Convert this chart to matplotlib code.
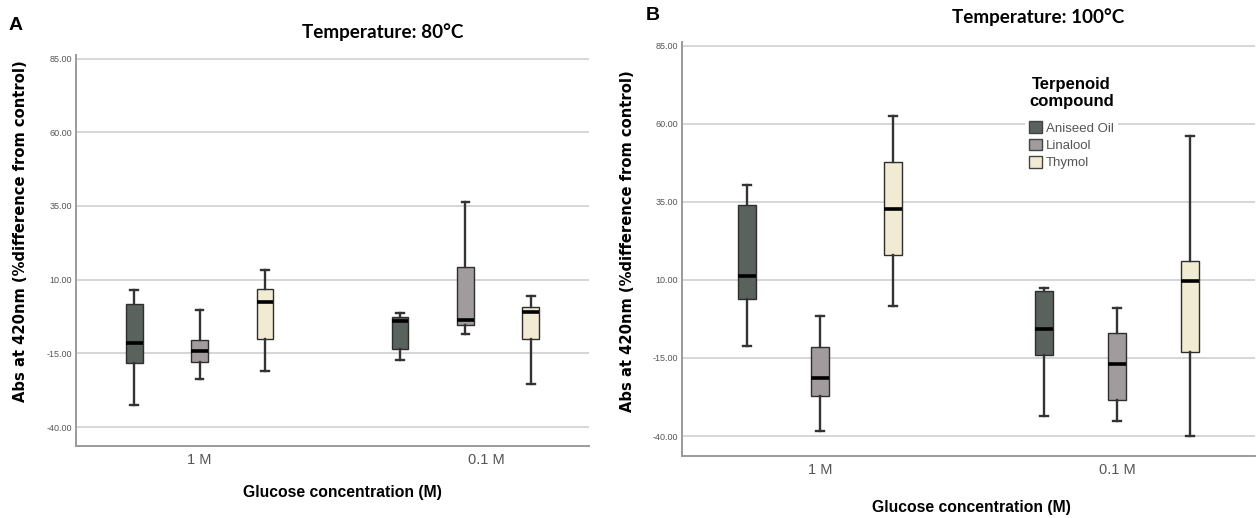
import matplotlib
matplotlib.use("Agg")
import matplotlib.pyplot as plt
import matplotlib.transforms as mtransforms
from matplotlib.patches import Patch
from matplotlib.ticker import FormatStrFormatter

# ---------------- data ----------------
groups = ["1 M", "0.1 M"]
compounds = ["Aniseed Oil", "Linalool", "Thymol"]
colors = ["#59625d", "#a19b9d", "#f1ebd3"]
yticks = [-40, -15, 10, 35, 60, 85]

# five-number summaries [whisker low, Q1, median, Q3, whisker high]; one row per group (1 M, 0.1 M)
t80_aniseed = [[-32.4, -18.1, -11.5, 1.6, 6.6], [-17.3, -13.6, -4.1, -2.7, -1.4]]
t80_linalool = [[-23.7, -17.8, -14.2, -10.5, -0.3], [-8.4, -5.4, -3.6, 14.3, 36.3]]
t80_thymol = [[-21.1, -10.1, 2.5, 7.0, 13.2], [-25.3, -10.0, -0.9, 0.8, 4.6]]

t100_aniseed = [[-11.2, 4.0, 11.1, 34.0, 40.5], [-33.5, -14.0, -5.8, 6.3, 7.3]]
t100_linalool = [[-38.3, -27.1, -21.3, -11.4, -1.4], [-35.1, -28.4, -17.0, -7.1, 1.1]]
t100_thymol = [[1.8, 18.1, 32.8, 47.9, 62.5], [-40.1, -13.1, 9.5, 16.1, 56.0]]

# ---------------- style ----------------
W, H = 1258, 518
fig = plt.figure(figsize=(W / 100, H / 100), dpi=100)
fig.patch.set_facecolor("white")

offsets = [-0.246, 0.0, 0.246]
BOXW = 0.063
CAPW = 0.028
ylabel = "Abs at 420nm (%difference from control)"
xlabel = "Glucose concentration (M)"


def draw_panel(ax, series):
    for ci, (data, col) in enumerate(zip(series, colors)):
        stats = [dict(whislo=d[0], q1=d[1], med=d[2], q3=d[3], whishi=d[4], fliers=[])
                 for d in data]
        pos = [gi + offsets[ci] for gi in range(len(groups))]
        ax.bxp(stats, positions=pos, widths=BOXW, patch_artist=True, showfliers=False,
               capwidths=CAPW, manage_ticks=False,
               boxprops=dict(facecolor=col, edgecolor="#2e2e2e", linewidth=1.0),
               medianprops=dict(color="black", linewidth=2.6, solid_capstyle="butt"),
               whiskerprops=dict(color="#333333", linewidth=1.7),
               capprops=dict(color="#333333", linewidth=1.7))
    ax.set_xlim(-0.465, 1.465)
    ax.set_ylim(-46.4, 86.2)
    ax.set_yticks(yticks)
    ax.yaxis.set_major_formatter(FormatStrFormatter("%.2f"))
    ax.set_xticks(range(len(groups)))
    ax.set_xticklabels(groups)
    ax.yaxis.grid(True, color="#d6d6d6", linewidth=1.4)
    ax.set_axisbelow(True)
    for s in ["top", "right"]:
        ax.spines[s].set_visible(False)
    for s in ["left", "bottom"]:
        ax.spines[s].set_color("#9a9a9a")
        ax.spines[s].set_linewidth(1.4)
    ax.tick_params(axis="both", length=0)
    ax.tick_params(axis="y", labelsize=6.5, labelcolor="#555555", pad=3)
    ax.tick_params(axis="x", labelsize=10.5, labelcolor="#555555", pad=5)
    for lab in ax.get_yticklabels():
        lab.set_family(["Liberation Sans Narrow", "Liberation Sans", "DejaVu Sans"])
    for lab in ax.get_xticklabels():
        lab.set_family(["Liberation Sans", "DejaVu Sans"])


# Panel A
axA = fig.add_axes([76 / W, 1 - 446 / H, (589 - 76) / W, (446 - 55) / H])
draw_panel(axA, [t80_aniseed, t80_linalool, t80_thymol])
axA.set_ylabel(ylabel, fontsize=10.6, fontweight="bold", family="DejaVu Sans")
axA.yaxis.set_label_coords(-0.094, 0.55)
axA.set_xlabel(xlabel, fontsize=11.3, fontweight="bold", family="Liberation Sans")
axA.xaxis.set_label_coords(0.52, -0.10)
# the "0.1 M" label of panel A sits a little right of its group centre
labA = axA.get_xticklabels()[1]
labA.set_transform(labA.get_transform() + mtransforms.ScaledTranslation(21 / 100, 0, fig.dpi_scale_trans))

# Panel B
axB = fig.add_axes([682 / W, 1 - 456 / H, (1255 - 682) / W, (456 - 42) / H])
draw_panel(axB, [t100_aniseed, t100_linalool, t100_thymol])
axB.set_ylabel(ylabel, fontsize=10.6, fontweight="bold", family="DejaVu Sans")
axB.yaxis.set_label_coords(-0.082, 0.52)
axB.set_xlabel(xlabel, fontsize=11.3, fontweight="bold", family="Liberation Sans")
axB.xaxis.set_label_coords(0.505, -0.107)

# titles and panel letters
fig.text(383 / W, 1 - 32 / H, "Temperature: 80°C", ha="center", va="center",
         fontsize=13.6, fontweight="bold", family="Lato")
fig.text(1038 / W, 1 - 17 / H, "Temperature: 100°C", ha="center", va="center",
         fontsize=13.6, fontweight="bold", family="Lato")
fig.text(16 / W, 1 - 25 / H, "A", ha="center", va="center", fontsize=14, fontweight="bold",
         family="Liberation Sans")
fig.text(653 / W, 1 - 15 / H, "B", ha="center", va="center", fontsize=14, fontweight="bold",
         family="Liberation Sans")

# legend
handles = [Patch(facecolor=c, edgecolor="#444444", linewidth=1.0) for c in colors]
leg = axB.legend(handles, compounds, title="Terpenoid\ncompound", loc="upper left",
                 bbox_to_anchor=(1025 / W, 1 - 73 / H), bbox_transform=fig.transFigure,
                 frameon=True, facecolor="white", edgecolor="none", framealpha=1,
                 handlelength=1.0, handleheight=1.0, handletextpad=0.25,
                 labelspacing=0.3, borderpad=0.3, borderaxespad=0,
                 prop={"family": "Liberation Sans", "size": 9.5})
leg.get_title().set_fontweight("bold")
leg.get_title().set_fontsize(12)
leg.get_title().set_family("Liberation Sans")
leg.get_title().set_multialignment("center")
leg.get_title().set_linespacing(1.15)
leg._legend_box.sep = 9
for t in leg.get_texts():
    t.set_color("#555555")

fig.savefig("out.png", dpi=100, facecolor="white")
